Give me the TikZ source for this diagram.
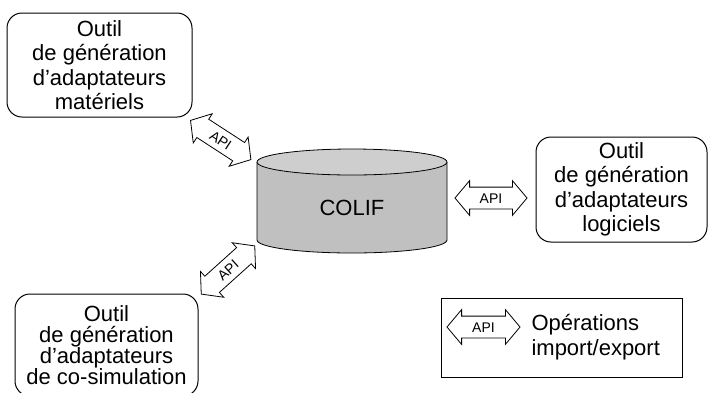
\documentclass[tikz,border=0pt]{standalone}
\usepackage{fontspec}
\setmainfont{Liberation Sans}
\usetikzlibrary{shapes.arrows}
\definecolor{colifgray}{RGB}{192,192,192}
\definecolor{colifgraytop}{RGB}{206,206,206}

\begin{document}
\begin{tikzpicture}[
    x=1pt, y=-1pt,
    tool/.style={rectangle, draw, line width=1pt, rounded corners=15pt, align=center, inner sep=0pt, font=\fontsize{22}{24.5}\selectfont},
    api/.style={double arrow, draw, fill=white, line width=0.8pt, minimum height=72pt, double arrow head extend=6.5pt, double arrow tip angle=100, inner xsep=2pt, inner ysep=5.5pt, text height=10pt, text depth=0pt, font=\fontsize{14}{14}\selectfont},
    label/.style={font=\fontsize{22}{25}\selectfont, align=left}
]
    \useasboundingbox (0,0) rectangle (709,392);

    % Tools
    \node[tool, minimum width=185pt, minimum height=104pt] (tool-hw) at (99.5,65) {Outil\\de génération\\d’adaptateurs\\matériels};
    \node[tool, minimum width=171pt, minimum height=105pt] (tool-sw) at (621.5,189.5) {Outil\\de génération\\d’adaptateurs\\logiciels};
    \node[tool, minimum width=183pt, minimum height=102pt, font=\fontsize{22}{21}\selectfont] (tool-cosim) at (106.5,345) {Outil\\de génération\\d’adaptateurs\\de co-simulation};

    % COLIF database
    \draw[fill=colifgray, line width=0.8pt] (257,162) -- (257,240) arc[start angle=180, end angle=0, x radius=95, y radius=13] -- (447,162);
    \draw[fill=colifgraytop, line width=0.8pt] (352,162) ellipse[x radius=95, y radius=13];
    \node[font=\fontsize{22}{23}\selectfont] (colif) at (352,208) {COLIF};

    % API arrows
    \node[api, rotate=-33] (api-hw) at (220.7,140) {API};
    \node[api] (api-sw) at (491,198) {API};
    \node[api, rotate=42] (api-cosim) at (228,270) {API};

    % Legend
    \node[draw, line width=0.8pt, minimum width=241pt, minimum height=79pt, inner sep=0pt] (legend) at (561.5,337.5) {};
    \node[api, minimum height=73pt] (api-legend) at (483.5,327) {API};
    \node[label, anchor=west] (legend-text) at (528,337) {Opérations\\import/export};
\end{tikzpicture}
\end{document}
